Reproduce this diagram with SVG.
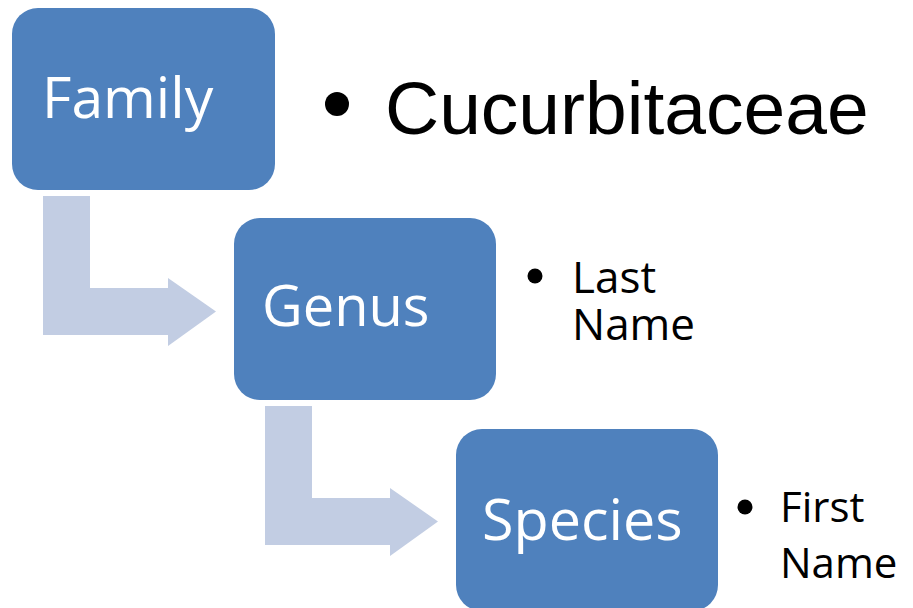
<svg xmlns="http://www.w3.org/2000/svg" width="913" height="608" viewBox="0 0 913 608">
<style>
.box{fill:#4F81BD}
.arr{fill:#C2CDE3}
.lbl{font-family:"Open Sans","Noto Sans",sans-serif;fill:#fff}
.bt{font-family:"Open Sans","Noto Sans",sans-serif;fill:#000}
.big{font-family:"Liberation Sans",Arial,sans-serif;fill:#000}
</style>
<rect width="913" height="608" fill="#fff"/>
<g id="connectors">
<path class="arr" d="M43,196 H90 V288 H168 V278 L216,311.5 L168,346 V335 H43 Z"/>
<path class="arr" d="M265,406 H312 V498 H390 V488 L438,521.5 L390,556 V545 H265 Z"/>
</g>
<g id="family">
<rect class="box" x="12" y="8" width="263" height="182" rx="26"/>
<text class="lbl" x="42" y="118" font-size="57">Family</text>
</g>
<g id="family-note">
<circle cx="337" cy="104" r="12"/>
<text class="big" x="385" y="134" font-size="75">Cucurbitaceae</text>
</g>
<g id="genus">
<rect class="box" x="234" y="218" width="262" height="182" rx="26"/>
<text class="lbl" x="262" y="326" font-size="56">Genus</text>
</g>
<g id="genus-note">
<circle cx="535" cy="276" r="7.5"/>
<text class="bt" font-size="44"><tspan x="572" y="293">Last</tspan><tspan x="572" y="340">Name</tspan></text>
</g>
<g id="species">
<rect class="box" x="456" y="429" width="262" height="182" rx="26"/>
<text class="lbl" x="482" y="540" font-size="57.5">Species</text>
</g>
<g id="species-note">
<circle cx="745" cy="507" r="7.5"/>
<text class="bt" font-size="42"><tspan x="780" y="522">First</tspan><tspan x="780" y="578">Name</tspan></text>
</g>
</svg>
